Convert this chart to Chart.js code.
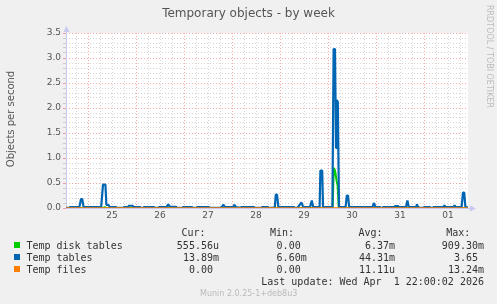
<!DOCTYPE html>
<html>
<head>
<meta charset="utf-8">
<script src="https://cdn.jsdelivr.net/npm/chart.js@4/dist/chart.umd.min.js"></script>
<style>
  body { margin: 0; background: #f0f0f0; }
  #wrap { position: relative; width: 497px; height: 304px; overflow: hidden; font-family: "DejaVu Sans", sans-serif; }
  #chart { position: absolute; left: 0; top: 0; }
  .t { position: absolute; white-space: pre; }
  .mono { font-family: "DejaVu Sans Mono", monospace; font-size: 10px; line-height: 12px; color: #333; }
  .sq { position: absolute; width: 6px; height: 6px; left: 14px; }
</style>
</head>
<body>
<div id="wrap">
  <canvas id="chart" width="497" height="304"></canvas>

  <div class="t" style="left:0;width:497px;top:6px;text-align:center;font-size:12px;line-height:14px;color:#555">Temporary objects - by week</div>
  <div class="t" style="left:-64.5px;top:112px;width:150px;height:14px;line-height:14px;text-align:center;font-size:10px;color:#555;transform:rotate(-90deg)">Objects per second</div>
  <div class="t" style="left:485px;top:5px;writing-mode:vertical-rl;font-size:8px;line-height:9px;color:#bbb">RRDTOOL / TOBI OETIKER</div>

  <div class="t mono" style="left:181.5px;top:227.3px">Cur:</div>
  <div class="t mono" style="left:270px;top:227.3px">Min:</div>
  <div class="t mono" style="left:358.5px;top:227.3px">Avg:</div>
  <div class="t mono" style="left:446.3px;top:227.3px">Max:</div>

  <div class="sq" style="top:242.3px;background:#00cc00"></div>
  <div class="t mono" style="left:26.4px;top:239.5px">Temp disk tables</div>
  <div class="t mono" style="right:278px;top:239.5px;text-align:right">555.56u</div>
  <div class="t mono" style="right:190.3px;top:239.5px;text-align:right">0.00 </div>
  <div class="t mono" style="right:102px;top:239.5px;text-align:right">6.37m</div>
  <div class="t mono" style="right:13px;top:239.5px;text-align:right">909.30m</div>

  <div class="sq" style="top:254.3px;background:#0066b3"></div>
  <div class="t mono" style="left:26.4px;top:251.5px">Temp tables</div>
  <div class="t mono" style="right:278px;top:251.5px;text-align:right">13.89m</div>
  <div class="t mono" style="right:190.3px;top:251.5px;text-align:right">6.60m</div>
  <div class="t mono" style="right:102px;top:251.5px;text-align:right">44.31m</div>
  <div class="t mono" style="right:13px;top:251.5px;text-align:right">3.65 </div>

  <div class="sq" style="top:266.3px;background:#ff8000"></div>
  <div class="t mono" style="left:26.4px;top:263.5px">Temp files</div>
  <div class="t mono" style="right:278px;top:263.5px;text-align:right">0.00 </div>
  <div class="t mono" style="right:190.3px;top:263.5px;text-align:right">0.00 </div>
  <div class="t mono" style="right:102px;top:263.5px;text-align:right">11.11u</div>
  <div class="t mono" style="right:13px;top:263.5px;text-align:right">13.24m</div>

  <div class="t mono" style="right:13px;top:275.5px;text-align:right">Last update: Wed Apr  1 22:00:02 2026</div>
  <div class="t" style="left:200px;top:288.9px;font-size:8px;line-height:10px;color:#bbb">Munin 2.0.25-1+deb8u3</div>
</div>

<script>
// hours counted from Mar 25 00:00, graph runs Mar 24 13:00 .. Apr 1 22:00
const dayLabels = ['25', '26', '27', '28', '29', '30', '31', '01'];

const tablesHours = [
  -11, -9.5, -9, -4.3, -3.5, -2.9, -2.2, 5.2, 6.6, 7.5, 8.7, 9.2, 10.3, 10.9, 14, 14.4, 17.5, 17.9, 20,
  20.5, 22.3, 22.8, 26, 26.4, 27.6, 28, 33, 33.4, 35, 35.4, 39.2, 40.1, 41, 44, 44.4, 47, 47.4,
  52, 52.4, 54, 54.4, 60.5, 61, 66, 67, 67.6, 68.6, 72.6, 73.2, 74, 76, 76.6, 83, 83.4, 86.5,
  86.9, 90, 90.4, 92.6, 93.4, 93.9, 94.5, 95.2, 98.5, 103, 103.5, 104.6, 105, 106.7, 107.6, 111, 111.9,
  112.6, 115.8, 116.2, 117.1, 117.5, 122.2, 122.8, 123.5, 124.0, 124.4, 124.9, 125.5, 128.8, 129.4, 130.0, 130.6,
  142.2, 143, 143.7, 146, 146.4, 147, 147.4, 153.2, 153.6, 155, 155.4, 159, 159.7, 160.4, 164,
  164.5, 165, 166, 167.5, 167.9, 171, 171.4, 172.4, 172.8, 177.6, 178.2, 178.8, 182.7, 183.3,
  183.9, 186.8, 187.5, 188.1, 188.7, 190
];
const tablesValues = [
  0.004, 0.004, 0.018, 0.018, 0.18, 0.18, 0.018, 0.018, 0.018, 0.47, 0.47, 0.06, 0.06, 0.018, 0.018, 0.004, 0.004, 0.018, 0.018,
  0.045, 0.045, 0.018, 0.018, 0.004, 0.004, 0.018, 0.018, 0.004, 0.004, 0.018, 0.018, 0.07, 0.025, 0.025, 0.004, 0.004, 0.018,
  0.018, 0.004, 0.004, 0.018, 0.018, 0.004, 0.004, 0.018, 0.065, 0.018, 0.018, 0.065, 0.018, 0.004, 0.018, 0.018, 0.004, 0.004,
  0.018, 0.018, 0.004, 0.004, 0.018, 0.27, 0.27, 0.018, 0.018, 0.018, 0.004, 0.004, 0.018, 0.11, 0.018, 0.018, 0.15,
  0.018, 0.018, 0.75, 0.75, 0.018, 0.018, 3.18, 3.18, 1.2, 2.16, 2.12, 0.018, 0.018, 0.25, 0.25, 0.018,
  0.018, 0.1, 0.018, 0.018, 0.004, 0.004, 0.018, 0.018, 0.04, 0.04, 0.018, 0.018, 0.15, 0.018, 0.018,
  0.07, 0.018, 0.004, 0.004, 0.018, 0.018, 0.004, 0.004, 0.018, 0.018, 0.05, 0.018, 0.018, 0.05,
  0.018, 0.018, 0.31, 0.31, 0.018, 0.014
];

const diskHours = [-11, 7.8, 8.3, 8.9, 122.3, 122.9, 123.5, 124.3, 124.8, 125.4, 190];
const diskValues = [0, 0, 0.02, 0, 0, 0.8, 0.75, 0.55, 0.45, 0, 0];

const filesHours = [-11, 190];
const filesValues = [0, 0];

const toPoints = (hours, values) => hours.map((h, i) => ({ x: h, y: values[i] }));

const majorGrid = 'rgba(235,60,60,0.45)';
const minorGrid = 'rgba(150,150,150,0.4)';
const tickFont = { family: 'DejaVu Sans', size: 9 };

const axesPlugin = {
  id: 'rrdAxes',
  beforeDraw(chart) {
    const { ctx, chartArea: a } = chart;
    ctx.save();
    ctx.fillStyle = '#ffffff';
    ctx.fillRect(a.left, a.top, a.right - a.left, a.bottom - a.top);
    ctx.restore();
  },
  beforeDatasetsDraw(chart) {
    const { ctx, chartArea: a } = chart;
    ctx.save();
    ctx.strokeStyle = '#c8c8f0';
    ctx.fillStyle = '#c8c8f0';
    ctx.lineWidth = 1;
    ctx.beginPath();
    ctx.moveTo(a.left + 0.5, a.bottom);
    ctx.lineTo(a.left + 0.5, a.top - 4);
    ctx.moveTo(a.left, a.bottom + 0.5);
    ctx.lineTo(a.right + 4, a.bottom + 0.5);
    ctx.stroke();
    ctx.beginPath();
    ctx.moveTo(a.left + 0.5, a.top - 7);
    ctx.lineTo(a.left - 2.5, a.top - 1);
    ctx.lineTo(a.left + 3.5, a.top - 1);
    ctx.fill();
    ctx.beginPath();
    ctx.moveTo(a.right + 8, a.bottom + 0.5);
    ctx.lineTo(a.right + 2, a.bottom - 2.5);
    ctx.lineTo(a.right + 2, a.bottom + 3.5);
    ctx.fill();
    ctx.restore();
  }
};

const ctx1 = document.getElementById('chart').getContext('2d');

const tmpChart = new Chart(ctx1, {
  type: 'line',
  data: {
    datasets: [
      {
        label: 'Temp disk tables',
        data: toPoints(diskHours, diskValues),
        borderColor: '#00cc00',
        borderWidth: 2,
        order: 2
      },
      {
        label: 'Temp tables',
        data: toPoints(tablesHours, tablesValues),
        borderColor: '#0066b3',
        borderWidth: 2.2,
        order: 1
      },
      {
        label: 'Temp files',
        data: toPoints(filesHours, filesValues),
        borderColor: '#ff8000',
        borderWidth: 1.5,
        order: 0
      }
    ]
  },
  options: {
    responsive: false,
    animation: false,
    events: [],
    elements: {
      point: { radius: 0 },
      line: { tension: 0, fill: false, borderJoinStyle: 'bevel' }
    },
    layout: { padding: { left: 0, top: 33, right: 29, bottom: 76 } },
    plugins: {
      legend: { display: false },
      title: { display: false },
      tooltip: { enabled: false }
    },
    scales: {
      x: {
        type: 'linear',
        min: -11,
        max: 190,
        afterBuildTicks: (scale) => {
          const ticks = [];
          for (let v = Math.ceil(scale.min / 6) * 6; v <= scale.max; v += 6) ticks.push({ value: v });
          scale.ticks = ticks;
        },
        afterFit: (scale) => { scale.height = 20; },
        ticks: {
          autoSkip: false,
          maxRotation: 0,
          padding: 2,
          font: tickFont,
          color: '#555',
          callback: (v) => ((v - 12) % 24 === 0 ? (dayLabels[(v - 12) / 24] || '') : '')
        },
        grid: {
          drawTicks: false,
          lineWidth: 1,
          color: (c) => (c.tick && c.tick.value % 24 === 0 ? majorGrid : minorGrid)
        },
        border: { display: false, dash: [1, 2] }
      },
      y: {
        min: 0,
        max: 3.5,
        afterBuildTicks: (scale) => {
          const ticks = [];
          for (let i = 0; i <= 35; i++) ticks.push({ value: i / 10 });
          scale.ticks = ticks;
        },
        afterFit: (scale) => { scale.width = 66; },
        ticks: {
          autoSkip: false,
          padding: 2,
          font: tickFont,
          color: '#555',
          callback: (v) => (Math.round(v * 10) % 5 === 0 ? v.toFixed(1) : '')
        },
        grid: {
          drawTicks: true,
          tickLength: 3,
          lineWidth: 1,
          color: (c) => (c.tick && Math.round(c.tick.value * 10) % 5 === 0 ? majorGrid : minorGrid)
        },
        border: { display: false, dash: [1, 2] }
      }
    }
  },
  plugins: [axesPlugin]
});
</script>
</body>
</html>
